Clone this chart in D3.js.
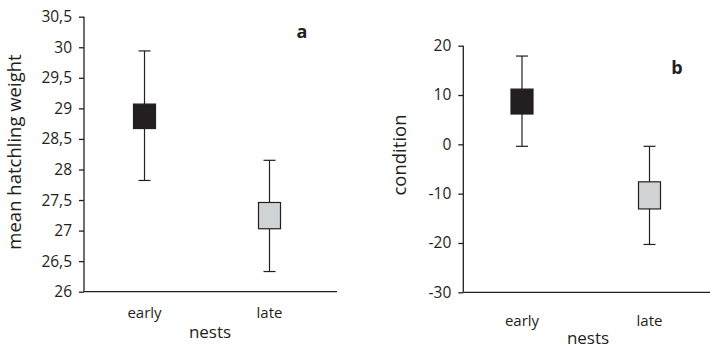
<!DOCTYPE html>
<html>
<head>
<meta charset="utf-8">
<script src="https://cdn.jsdelivr.net/npm/d3@7"></script>
<style>
  body { margin: 0; background: #fff; }
  text { font-family: 'Open Sans', sans-serif; fill: #231f20; }
</style>
</head>
<body>
<div class="chart"></div>
<script>
const categories = ['early', 'late'];

// panel a: mean hatchling weight
const weightBoxHigh = [29.07, 27.46];
const weightBoxLow = [28.67, 27.03];
const weightWhiskerHigh = [29.94, 28.15];
const weightWhiskerLow = [27.82, 26.33];
const weightTicks = [26, 26.5, 27, 27.5, 28, 28.5, 29, 29.5, 30, 30.5];

// panel b: condition
const condBoxHigh = [11.2, -7.6];
const condBoxLow = [6.15, -13.1];
const condWhiskerHigh = [17.9, -0.4];
const condWhiskerLow = [-0.4, -20.3];
const condTicks = [-30, -20, -10, 0, 10, 20];

const ink = '#231f20';
const fills = ['#231f20', '#d1d2d4'];

const svg = d3.select('.chart')
  .append('svg')
  .attr('width', 710)
  .attr('height', 348);

function panel(opts) {
  const g = svg.append('g');

  const y = d3.scaleLinear().domain(opts.domain).range([opts.bottom, opts.top]);
  const x = d3.scalePoint().domain(categories).range(opts.xPts);

  // y axis
  const yAxis = d3.axisLeft(y)
    .tickValues(opts.ticks)
    .tickSize(5)
    .tickSizeOuter(0)
    .tickPadding(7)
    .tickFormat(opts.fmt);
  const ya = g.append('g')
    .attr('transform', 'translate(' + opts.left + ',0)')
    .call(yAxis);
  ya.selectAll('path, line').attr('stroke', ink).attr('stroke-width', 1.3);
  ya.select('.domain').attr('d', 'M0,' + opts.top + 'V' + opts.bottom);
  ya.selectAll('text')
    .style('font-family', "'Open Sans', sans-serif")
    .style('font-size', '15.5px')
    .attr('fill', ink);

  // x axis line (no ticks)
  g.append('line')
    .attr('x1', opts.left).attr('x2', opts.right)
    .attr('y1', opts.bottom).attr('y2', opts.bottom)
    .attr('stroke', ink).attr('stroke-width', 1.3);

  // category labels
  g.selectAll('.cat')
    .data(categories)
    .enter()
    .append('text')
    .attr('x', d => x(d))
    .attr('y', opts.catY)
    .attr('text-anchor', 'middle')
    .style('font-size', '15px')
    .text(d => d);

  // whiskers
  const idx = d3.range(categories.length);
  g.selectAll('.whisker')
    .data(idx)
    .enter()
    .append('line')
    .attr('x1', i => x(categories[i])).attr('x2', i => x(categories[i]))
    .attr('y1', i => y(opts.whHigh[i])).attr('y2', i => y(opts.whLow[i]))
    .attr('stroke', ink).attr('stroke-width', 1.2);

  ['whHigh', 'whLow'].forEach(k => {
    g.selectAll('.cap-' + k)
      .data(idx)
      .enter()
      .append('line')
      .attr('x1', i => x(categories[i]) - 6).attr('x2', i => x(categories[i]) + 6)
      .attr('y1', i => y(opts[k][i])).attr('y2', i => y(opts[k][i]))
      .attr('stroke', ink).attr('stroke-width', 1.2);
  });

  // boxes
  g.selectAll('.box')
    .data(idx)
    .enter()
    .append('rect')
    .attr('x', i => x(categories[i]) - 11)
    .attr('width', 22)
    .attr('y', i => y(opts.boxHigh[i]))
    .attr('height', i => y(opts.boxLow[i]) - y(opts.boxHigh[i]))
    .attr('fill', i => fills[i])
    .attr('stroke', ink)
    .attr('stroke-width', 1.2);

  // axis titles
  g.append('text')
    .attr('transform', 'translate(' + opts.yLabelX + ',' + opts.yLabelY + ') rotate(-90)')
    .attr('text-anchor', 'middle')
    .style('font-size', '18.5px')
    .text(opts.yLabel);

  g.append('text')
    .attr('x', opts.nestsX)
    .attr('y', opts.nestsY)
    .attr('text-anchor', 'middle')
    .style('font-size', '17px')
    .text('nests');

  g.append('text')
    .attr('x', opts.letterX)
    .attr('y', opts.letterY)
    .attr('text-anchor', 'middle')
    .style('font-size', '18px')
    .style('font-weight', 'bold')
    .text(opts.letter);
}

panel({
  domain: [26, 30.5], ticks: weightTicks, fmt: d => String(d).replace('.', ','),
  top: 16.7, bottom: 291.7, left: 84, right: 337, xPts: [144.5, 269.5],
  boxHigh: weightBoxHigh, boxLow: weightBoxLow,
  whHigh: weightWhiskerHigh, whLow: weightWhiskerLow,
  catY: 318, yLabel: 'mean hatchling weight', yLabelX: 21, yLabelY: 152,
  nestsX: 210, nestsY: 338, letter: 'a', letterX: 302, letterY: 38
});

panel({
  domain: [-30, 20], ticks: condTicks, fmt: d => String(d),
  top: 45.7, bottom: 292.3, left: 463.3, right: 710, xPts: [522, 649.5],
  boxHigh: condBoxHigh, boxLow: condBoxLow,
  whHigh: condWhiskerHigh, whLow: condWhiskerLow,
  catY: 326, yLabel: 'condition', yLabelX: 406, yLabelY: 155,
  nestsX: 588, nestsY: 344, letter: 'b', letterX: 677, letterY: 74
});
</script>
</body>
</html>
